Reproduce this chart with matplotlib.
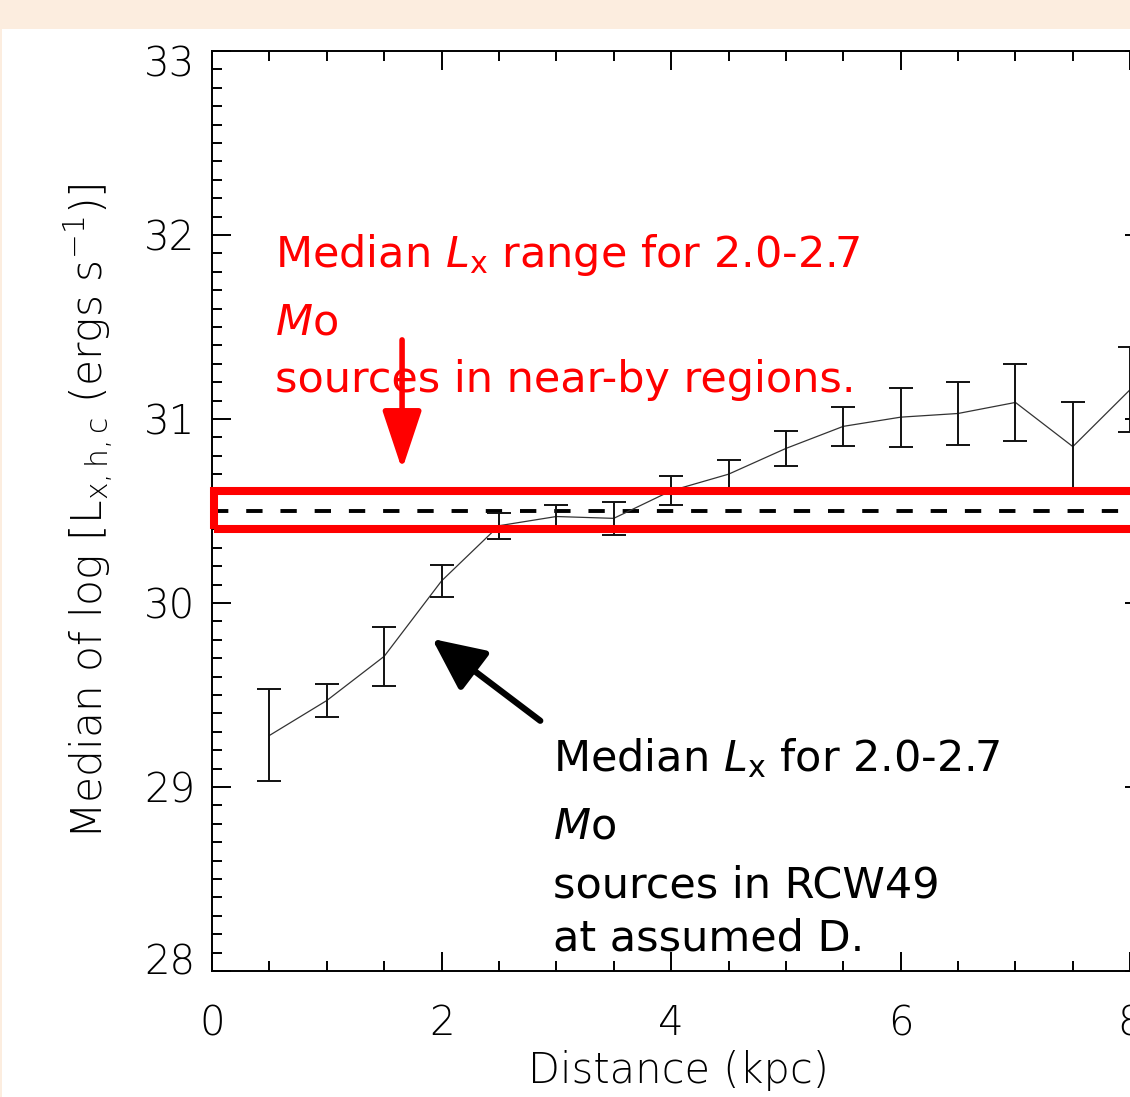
import matplotlib
matplotlib.use("Agg")
import matplotlib.pyplot as plt
from matplotlib.patches import Rectangle
from matplotlib.ticker import MultipleLocator
from matplotlib.transforms import ScaledTranslation

# ---- data ----
distance_kpc = [0.5, 1.0, 1.5, 2.0, 2.5, 3.0, 3.5, 4.0, 4.5, 5.0, 5.5, 6.0, 6.5, 7.0, 7.5, 8.0]
median_log_lx = [29.28, 29.47, 29.71, 30.12, 30.42, 30.47, 30.46, 30.61, 30.70, 30.84,
                 30.96, 31.01, 31.03, 31.09, 30.85, 31.16]
median_err = [0.25, 0.09, 0.16, 0.085, 0.07, 0.065, 0.09, 0.08, 0.075, 0.095,
              0.105, 0.16, 0.17, 0.21, 0.245, 0.23]
nearby_median = 30.50
nearby_low, nearby_high = 30.40, 30.61
x_ticks = [0, 2, 4, 6, 8]
y_ticks = [28, 29, 30, 31, 32, 33]

AXFAM = "DejaVu Sans"
AXW = 200

plt.rcParams["mathtext.fontset"] = "custom"
plt.rcParams["mathtext.rm"] = "DejaVu Sans:weight=200"
plt.rcParams["mathtext.it"] = "DejaVu Sans:weight=200:italic"

W, H = 1130, 1097
fig = plt.figure(figsize=(W / 100, H / 100), dpi=100, facecolor="#FCEDDF")
fig.patches.append(Rectangle((2 / W, 0), 1, (H - 29) / H, transform=fig.transFigure,
                             facecolor="white", edgecolor="none", zorder=-10))

ax = fig.add_axes([212 / W, 126 / H, 932 / W, 920 / H])
ax.set_xlim(0, 8.12)
ax.set_ylim(28, 33)

ax.set_xticks(x_ticks)
ax.set_yticks(y_ticks)
ax.xaxis.set_minor_locator(MultipleLocator(0.5))
ax.yaxis.set_minor_locator(MultipleLocator(0.1))
ax.tick_params(which="both", direction="in", top=True, right=True, width=1.4, colors="black")
ax.tick_params(which="major", length=13.5)
ax.tick_params(which="minor", length=7.5)
ax.tick_params(axis="x", which="major", pad=24)
ax.tick_params(axis="y", which="major", pad=12)
for lab in ax.get_xticklabels() + ax.get_yticklabels():
    lab.set_fontfamily(AXFAM)
    lab.set_fontweight(AXW)
    lab.set_fontsize(29)
ylabs = ax.get_yticklabels()
ylabs[0].set_transform(ylabs[0].get_transform() + ScaledTranslation(0, 0.12, fig.dpi_scale_trans))
ylabs[-1].set_transform(ylabs[-1].get_transform() + ScaledTranslation(0, -0.10, fig.dpi_scale_trans))
for s in ax.spines.values():
    s.set_linewidth(1.4)

ax.set_xlabel("Distance (kpc)", fontsize=30, labelpad=5, family=AXFAM, weight=AXW)
ax.set_ylabel(r"Median of log [L$_{\rm x,h,c}$ (ergs s$^{-1}$)]", fontsize=30.5, labelpad=20,
              family=AXFAM, weight=AXW, math_fontfamily="custom")

# data
ax.plot(distance_kpc, median_log_lx, color="#333333", lw=0.9, zorder=3)
ax.errorbar(distance_kpc, median_log_lx, yerr=median_err, fmt="none", ecolor="#111111",
            elinewidth=1.4, capsize=8.6, capthick=1.4, zorder=3)

# dashed reference line and red box
ax.axhline(nearby_median, color="black", lw=2.8, dashes=(4.2, 4.6), zorder=2)
ax.add_patch(Rectangle((0.02, nearby_low), 10, nearby_high - nearby_low, fill=False,
                       edgecolor="#FF0000", lw=5.8, clip_on=False, zorder=4))

# arrows
ax.annotate("", xy=(1.656, 30.725), xytext=(1.656, 31.43),
            arrowprops=dict(arrowstyle="-|>,head_length=1.8,head_width=0.6", color="#FF0000",
                            lw=4, mutation_scale=20, shrinkA=0, shrinkB=0), zorder=5)
ax.annotate("", xy=(1.918, 29.805), xytext=(2.86, 29.36),
            arrowprops=dict(arrowstyle="-|>,head_length=1.6,head_width=0.75", color="black",
                            lw=4.5, mutation_scale=20, shrinkA=0, shrinkB=0), zorder=5)

ann = dict(fontsize=31, family="DejaVu Sans", math_fontfamily="dejavusans", va="baseline", ha="left", zorder=6)
ax.text(0.549, 31.826, r"Median $\mathit{L}_{\mathrm{x}}$ range for 2.0-2.7", color="#FF0000", **ann)
ax.text(0.549, 31.458, r"$\mathit{M}$o", color="#FF0000", **ann)
ax.text(0.549, 31.149, "sources in near-by regions.", color="#FF0000", **ann)

ax.text(2.973, 29.089, r"Median $\mathit{L}_{\mathrm{x}}$ for 2.0-2.7", color="black", **ann)
ax.text(2.973, 28.721, r"$\mathit{M}$o", color="black", **ann)
ax.text(2.973, 28.401, "sources in RCW49", color="black", **ann)
ax.text(2.973, 28.114, "at assumed D.", color="black", **ann)

fig.savefig("out.png", dpi=100, facecolor=fig.get_facecolor())
